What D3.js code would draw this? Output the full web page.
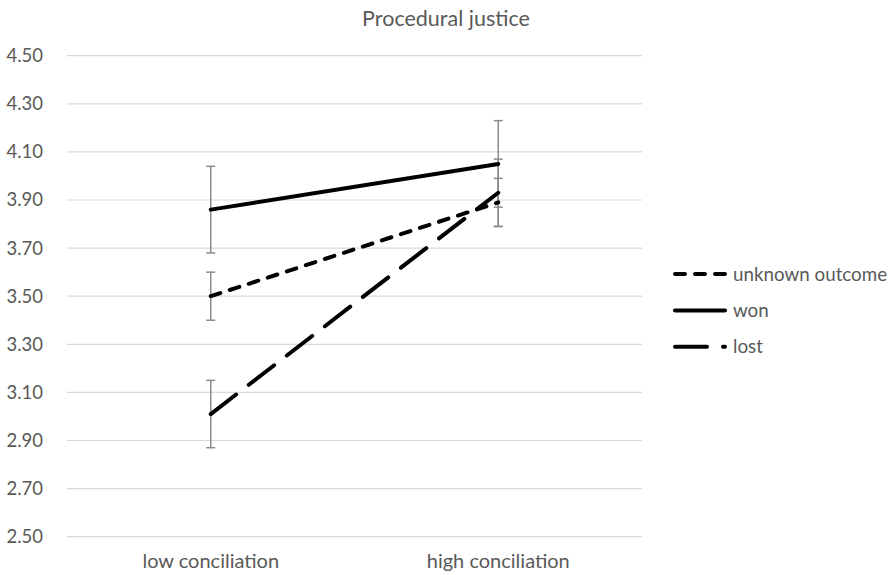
<!DOCTYPE html>
<html><head><meta charset="utf-8">
<script src="https://cdn.jsdelivr.net/npm/d3@7"></script>
<style>body{margin:0;background:#fff;} svg{display:block;} text{font-family:Lato, "Open Sans", sans-serif;fill:#595959;}</style>
</head><body>
<svg id="chart" width="892" height="575"></svg>
<script>
const categories = ["low conciliation", "high conciliation"];
const seriesNames = ["unknown outcome", "won", "lost"];
const unknownValues = [3.50, 3.89];
const unknownErrors = [0.10, 0.10];
const wonValues = [3.86, 4.05];
const wonErrors = [0.18, 0.18];
const lostValues = [3.01, 3.93];
const lostErrors = [0.14, 0.14];
const yTicks = [2.5, 2.7, 2.9, 3.1, 3.3, 3.5, 3.7, 3.9, 4.1, 4.3, 4.5];
const title = "Procedural justice";

(function () {
const series = [
  {name: seriesNames[0], values: unknownValues, errors: unknownErrors, dash: "10,10"},
  {name: seriesNames[1], values: wonValues, errors: wonErrors, dash: null},
  {name: seriesNames[2], values: lostValues, errors: lostErrors, dash: "32,16"}
];

const svg = d3.select("#chart");
const pLeft = 67, pRight = 642, pTop = 55.7, pBottom = 536.7;
const x = d3.scaleBand().domain(categories).range([pLeft, pRight]);
const y = d3.scaleLinear().domain([2.5, 4.5]).range([pBottom, pTop]);
const cx = c => x(c) + x.bandwidth() / 2;

svg.append("text").attr("x", 446).attr("y", 26).attr("text-anchor", "middle")
  .style("font-size", "21.5px").text(title);

// grid
svg.append("g").selectAll("line").data(yTicks).join("line")
  .attr("x1", pLeft).attr("x2", pRight)
  .attr("y1", d => y(d)).attr("y2", d => y(d))
  .attr("stroke", "#d9d9d9").attr("stroke-width", 1.2);

// y labels
const yAxis = svg.append("g").attr("transform", `translate(${pLeft},0)`)
  .call(d3.axisLeft(y).tickValues(yTicks).tickFormat(d3.format(".2f")).tickSize(0).tickPadding(24));
yAxis.select(".domain").remove();
yAxis.selectAll("text").style("font-size", "18.5px").attr("fill", "#595959").style("font-family", "Lato, 'Open Sans', sans-serif");

// x labels
const xAxis = svg.append("g").attr("transform", `translate(0,${pBottom})`)
  .call(d3.axisBottom(x).tickSize(0).tickPadding(17));
xAxis.select(".domain").remove();
xAxis.selectAll("text").style("font-size", "20px").attr("fill", "#595959").style("font-family", "Lato, 'Open Sans', sans-serif");

// error bars
const eb = svg.append("g");
series.forEach(s => {
  categories.forEach((c, i) => {
    const xc = cx(c), y1 = y(s.values[i] + s.errors[i]), y2 = y(s.values[i] - s.errors[i]);
    eb.append("line").attr("x1", xc).attr("x2", xc).attr("y1", y1).attr("y2", y2)
      .attr("stroke", "#8c8c8c").attr("stroke-width", 1.5);
    [y1, y2].forEach(yy => eb.append("line").attr("x1", xc - 4.5).attr("x2", xc + 4.5)
      .attr("y1", yy).attr("y2", yy).attr("stroke", "#8c8c8c").attr("stroke-width", 1.5));
  });
});

// lines
const line = d3.line().x((d, i) => cx(categories[i])).y(d => y(d));
series.forEach(s => {
  svg.append("path").datum(s.values).attr("d", line)
    .attr("fill", "none").attr("stroke", "#000").attr("stroke-width", 4)
    .attr("stroke-linecap", "round")
    .attr("stroke-dasharray", s.dash);
});

// legend
const lg = svg.append("g").attr("transform", "translate(673,274)");
series.forEach((s, i) => {
  const g = lg.append("g").attr("transform", `translate(0,${i * 36.4})`);
  g.append("line").attr("x1", 2).attr("x2", 52).attr("y1", 0).attr("y2", 0)
    .attr("stroke", "#000").attr("stroke-width", 4).attr("stroke-linecap", "round")
    .attr("stroke-dasharray", s.dash);
  g.append("text").attr("x", 60).attr("y", 0).attr("dy", "0.35em")
    .style("font-size", "18.8px").text(s.name);
});
})();
</script>
</body></html>
